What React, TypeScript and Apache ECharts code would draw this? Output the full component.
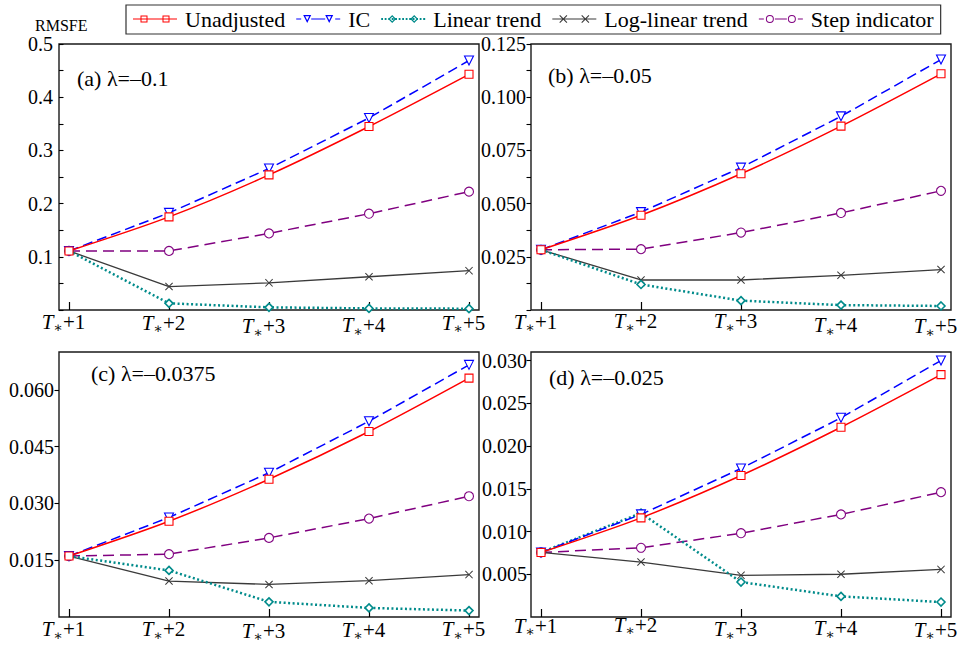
import React, { useEffect, useRef } from 'react';
import * as echarts from 'echarts';

// Forecast horizons T*+1 … T*+5
const horizons = [1, 2, 3, 4, 5];
const seriesNames = ['Unadjusted', 'IC', 'Linear trend', 'Log-linear trend', 'Step indicator'];
const panelTitles = ['(a) λ=–0.1', '(b) λ=–0.05', '(c) λ=–0.0375', '(d) λ=–0.025'];

// (a) λ = -0.1
const unadjustedA = [0.111, 0.175, 0.254, 0.345, 0.443];
const icA = [0.111, 0.1825, 0.266, 0.361, 0.469];
const linearA = [0.111, 0.0125, 0.005, 0.003, 0.0025];
const logLinearA = [0.111, 0.044, 0.051, 0.0625, 0.074];
const stepA = [0.111, 0.111, 0.144, 0.181, 0.2225];

// (b) λ = -0.05
const unadjustedB = [0.0283, 0.0445, 0.064, 0.0864, 0.111];
const icB = [0.0283, 0.046, 0.0669, 0.091, 0.1177];
const linearB = [0.0283, 0.012, 0.0044, 0.0023, 0.0019];
const logLinearB = [0.0283, 0.0141, 0.0141, 0.0163, 0.019];
const stepB = [0.0283, 0.0286, 0.0364, 0.0456, 0.056];

// (c) λ = -0.0375
const unadjustedC = [0.0161, 0.0253, 0.0364, 0.049, 0.0631];
const icC = [0.0161, 0.0263, 0.0381, 0.0517, 0.0666];
const linearC = [0.0161, 0.0123, 0.004, 0.0024, 0.0017];
const logLinearC = [0.0161, 0.0095, 0.0086, 0.0096, 0.0112];
const stepC = [0.0161, 0.0166, 0.0209, 0.026, 0.0319];

// (d) λ = -0.025
const unadjustedD = [0.00755, 0.0116, 0.01655, 0.0222, 0.02835];
const icD = [0.00755, 0.012, 0.01737, 0.0233, 0.03];
const linearD = [0.00755, 0.01215, 0.00409, 0.00241, 0.00175];
const logLinearD = [0.00755, 0.00643, 0.00487, 0.005, 0.00557];
const stepD = [0.00755, 0.0081, 0.0098, 0.012, 0.0146];

// y tick labels of each panel
const yTicksA = ['0.1', '0.2', '0.3', '0.4', '0.5'];
const yTicksB = ['0.025', '0.050', '0.075', '0.100', '0.125'];
const yTicksC = ['0.015', '0.030', '0.045', '0.060'];
const yTicksD = ['0.005', '0.010', '0.015', '0.020', '0.025', '0.030'];

const SERIF = '"Liberation Serif", "Times New Roman", "DejaVu Serif", serif';

// ---- symbols -------------------------------------------------------------
const crossPoly = (cx: number, cy: number, s: number, d: number) => {
  const h = s / 2;
  const x0 = cx - h, x1 = cx + h, y0 = cy - h, y1 = cy + h;
  const p = [
    [x0, y0 + d], [x0 + d, y0], [cx, cy - d], [x1 - d, y0], [x1, y0 + d], [cx + d, cy],
    [x1, y1 - d], [x1 - d, y1], [cx, cy + d], [x0 + d, y1], [x0, y1 - d], [cx - d, cy],
  ];
  return 'M' + p.map((q) => q.map((v) => +v.toFixed(3)).join(',')).join('L') + 'Z';
};
const crossSymbol = 'path://' + crossPoly(5, 5, 10, 0.9);

// ---- legend icons (44 x 8 box, line plus two hollow markers) -------------
const IW = 44, IH = 8, CY = 4;
const rect = (x: number, y: number, w: number, h: number) => `M${x},${y}h${w}v${h}h${-w}Z`;
const seg = (x0: number, x1: number, t = 1.2) => rect(x0, CY - t / 2, x1 - x0, t);
const fmt = (v: number) => +v.toFixed(3);
const scaledPoly = (pts: number[][], k: number, reverse: boolean) => {
  const c = [pts.reduce((s, p) => s + p[0], 0) / pts.length, pts.reduce((s, p) => s + p[1], 0) / pts.length];
  let q = pts.map((p) => [c[0] + k * (p[0] - c[0]), c[1] + k * (p[1] - c[1])]);
  if (reverse) q = q.reverse();
  return 'M' + q.map((p) => `${fmt(p[0])},${fmt(p[1])}`).join('L') + 'Z';
};
const marker = (kind: string, cx: number) => {
  if (kind === 'square') {
    const s = 7, t = 1.0, x = cx - s / 2, y = CY - s / 2;
    return rect(x, y, s, s) + `M${fmt(x + t)},${fmt(y + t)}v${fmt(s - 2 * t)}h${fmt(s - 2 * t)}v${fmt(-(s - 2 * t))}Z`;
  }
  if (kind === 'triangle') {
    const pts = [[cx - 4, 0], [cx + 4, 0], [cx, 8]];
    return scaledPoly(pts, 1, false) + scaledPoly(pts, 0.5, true);
  }
  if (kind === 'diamond') {
    const pts = [[cx, 0], [cx + 4, CY], [cx, 8], [cx - 4, CY]];
    return scaledPoly(pts, 1, false) + scaledPoly(pts, 0.55, true);
  }
  if (kind === 'circle') {
    const r = 4, ri = 3;
    return `M${cx - r},${CY}A${r},${r},0,1,1,${cx + r},${CY}A${r},${r},0,1,1,${cx - r},${CY}Z` +
      `M${cx - ri},${CY}A${ri},${ri},0,1,0,${cx + ri},${CY}A${ri},${ri},0,1,0,${cx - ri},${CY}Z`;
  }
  return crossPoly(cx, CY, 8, 0.75);
};
const dots = () => {
  let d = '';
  for (let x = 0; x <= IW - 2; x += 3.5) d += rect(fmt(x), CY - 0.9, 1.8, 1.8);
  return d + rect(IW - 1.8, CY - 0.9, 1.8, 1.8);
};
const legendIcon = (line: string, kind: string) => 'path://' + line + marker(kind, 11) + marker(kind, 33);

const seriesStyles = [
  { color: '#ff0000', type: 'solid', width: 1.5, symbol: 'rect', size: 8, rotate: 0, smooth: 0.3, border: 1.1,
    icon: legendIcon(seg(0, IW), 'square') },
  { color: '#0000ff', type: [10, 5], width: 1.5, symbol: 'triangle', size: 9, rotate: 180, smooth: false, border: 1.1,
    icon: legendIcon(seg(0, 5) + seg(15, 29) + seg(39, IW), 'triangle') },
  { color: '#008b8b', type: [2, 2.5], width: 2.5, symbol: 'diamond', size: 8, rotate: 0, smooth: false, border: 1.6,
    icon: legendIcon(dots(), 'diamond') },
  { color: '#3a3a3a', type: 'solid', width: 1.3, symbol: crossSymbol, size: 8, rotate: 0, smooth: false, border: 0,
    icon: legendIcon(seg(0, IW, 1.1), 'cross') },
  { color: '#800080', type: [11, 6], width: 1.5, symbol: 'circle', size: 9, rotate: 0, smooth: false, border: 1.1,
    icon: legendIcon(seg(0, 5) + seg(16, 28) + seg(39, IW), 'circle') },
];

// vertical placement of the horizon labels below each panel (px below the axis)
const xLabelDrop = [
  [9, 11, 18, 16, 11],
  [9, 8, 8, 16, 18],
  [10, 10, 13, 11, 10],
  [3, 1, 10, 8, 11],
];
// horizon labels sit slightly left of their ticks
const xLabelShift = 0.055;

const panels = [
  { values: [unadjustedA, icA, linearA, logLinearA, stepA], max: 0.5, interval: 0.1, ticks: yTicksA,
    inside: true, minor: true, margin: 6, grid: { left: 59, top: 44, width: 420, height: 266 }, title: [77, 78] },
  { values: [unadjustedB, icB, linearB, logLinearB, stepB], max: 0.125, interval: 0.025, ticks: yTicksB,
    inside: false, minor: true, margin: 5, grid: { left: 531, top: 44, width: 420, height: 266 }, title: [548, 75] },
  { values: [unadjustedC, icC, linearC, logLinearC, stepC], max: 0.07, interval: 0.015, ticks: yTicksC,
    inside: false, minor: false, margin: 5, grid: { left: 59, top: 352, width: 420, height: 265 }, title: [91, 373] },
  { values: [unadjustedD, icD, linearD, logLinearD, stepD], max: 0.031, interval: 0.005, ticks: yTicksD,
    inside: false, minor: false, margin: 4, grid: { left: 531, top: 352, width: 420, height: 265 }, title: [549, 377] },
];

const matchTick = (labels: string[], v: number) => labels.find((l) => Math.abs(parseFloat(l) - v) < 1e-9) ?? '';

// T (italic), subscript asterisk, +h; every token of one label shares the same top padding
const xRich = (drops: number[]) => {
  const rich: Record<string, any> = {};
  drops.forEach((d, i) => {
    rich['t' + i] = { fontFamily: SERIF, fontStyle: 'italic', fontSize: 21, lineHeight: 22, color: '#000', padding: [d, 0, 0, 0] };
    rich['s' + i] = { fontFamily: SERIF, fontSize: 14, lineHeight: 10, color: '#000', padding: [d + 12, 0, 0, 0] };
    rich['n' + i] = { fontFamily: SERIF, fontSize: 21, lineHeight: 22, color: '#000', padding: [d, 0, 0, 0] };
  });
  return rich;
};

export default function App() {
  const ref = useRef<HTMLDivElement>(null);

  useEffect(() => {
    document.body.style.margin = '0';
    if (!ref.current) return;
    const chart = echarts.init(ref.current, undefined, { renderer: 'svg' });

    const grids = panels.map((p) => ({
      ...p.grid,
      show: true,
      borderColor: '#1a1a1a',
      borderWidth: 1.4,
      backgroundColor: 'transparent',
      containLabel: false,
      outerBoundsMode: 'none',
    }));

    const xAxes = panels.map((p, i) => ({
      type: 'value',
      gridIndex: i,
      min: 0.9,
      max: 5.1,
      axisLine: { show: false },
      splitLine: { show: false },
      axisTick: { show: true, inside: true, length: 8, customValues: horizons, lineStyle: { color: '#000', width: 1.2 } },
      axisLabel: {
        customValues: horizons.map((h) => h - xLabelShift),
        margin: -4,
        formatter: (v: number) => {
          const k = horizons.findIndex((h) => Math.abs(h - xLabelShift - v) < 1e-6);
          return k < 0 ? '' : `{t${k}|T}{s${k}|∗}{n${k}|+${horizons[k]}}`;
        },
        rich: xRich(xLabelDrop[i]),
      },
    }));

    const yAxes = panels.map((p, i) => {
      const tickValues = p.ticks.map((t) => parseFloat(t));
      return {
        type: 'value',
        gridIndex: i,
        min: 0,
        max: p.max,
        interval: p.interval,
        axisLine: { show: false },
        splitLine: { show: false },
        axisTick: {
          show: true,
          inside: p.inside,
          length: 4.5,
          ...(p.minor ? {} : { customValues: tickValues }),
          lineStyle: { color: '#000', width: 1.1 },
        },
        minorTick: { show: p.minor, splitNumber: 2, length: 4.5, lineStyle: { color: '#000', width: 1.1 } },
        axisLabel: {
          margin: p.margin,
          fontFamily: SERIF,
          fontSize: 20,
          color: '#000',
          ...(p.minor ? {} : { customValues: tickValues }),
          formatter: (v: number) => matchTick(p.ticks, v),
        },
      };
    });

    const series: any[] = [];
    panels.forEach((p, i) => {
      p.values.forEach((vals, j) => {
        const st = seriesStyles[j];
        const isCross = j === 3;
        series.push({
          type: 'line',
          name: seriesNames[j],
          xAxisIndex: i,
          yAxisIndex: i,
          data: horizons.map((h, k) => [h, vals[k]]),
          symbol: st.symbol,
          symbolSize: st.size,
          symbolRotate: st.rotate,
          smooth: st.smooth,
          showAllSymbol: true,
          lineStyle: { color: st.color, width: st.width, type: st.type as any },
          itemStyle: isCross
            ? { color: st.color, borderWidth: 0 }
            : { color: '#ffffff', borderColor: st.color, borderWidth: st.border },
          emphasis: { disabled: true },
          silent: true,
          z: 2 + (4 - j) * 0.1,
        });
      });
    });

    const graphic: any[] = [
      {
        type: 'text',
        x: 35,
        y: 25,
        style: { text: 'RMSFE', fontFamily: SERIF, fontSize: 16, fill: '#000', verticalAlign: 'middle' },
      },
      ...panels.map((p, i) => ({
        type: 'text',
        x: p.title[0],
        y: p.title[1],
        style: { text: panelTitles[i], fontFamily: SERIF, fontSize: 22, fill: '#000', verticalAlign: 'middle' },
      })),
    ];

    chart.setOption({
      animation: false,
      backgroundColor: '#ffffff',
      legend: {
        left: 126,
        top: 5,
        orient: 'horizontal',
        padding: [3, 7, 4, 7],
        itemGap: 11,
        itemWidth: IW,
        itemHeight: IH,
        borderColor: '#333',
        borderWidth: 1.2,
        selectedMode: false,
        textStyle: { fontFamily: SERIF, fontSize: 22, lineHeight: 22, color: '#000', padding: [0, 0, 0, 3] },
        data: seriesNames.map((name, j) => ({
          name,
          icon: seriesStyles[j].icon,
          itemStyle: { color: seriesStyles[j].color, borderWidth: 0, borderColor: 'transparent' },
        })),
      },
      grid: grids,
      xAxis: xAxes,
      yAxis: yAxes,
      series,
      graphic,
    });

    return () => chart.dispose();
  }, []);

  return <div ref={ref} style={{ width: 957, height: 652 }} />;
}
